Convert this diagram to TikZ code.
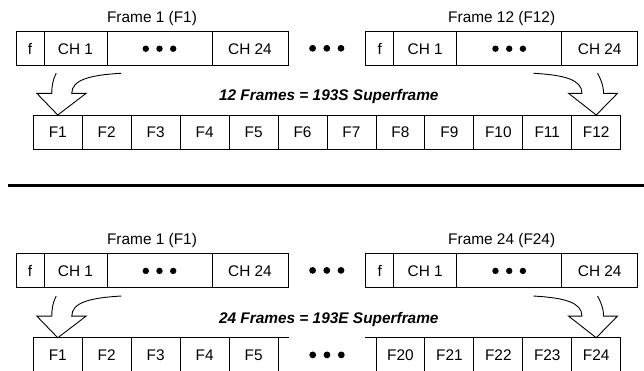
\documentclass[tikz,border=0pt]{standalone}
\usepackage{fontspec}
\setmainfont{Liberation Sans}
\begin{document}
\begin{tikzpicture}[x=1pt,y=-1pt,
  every node/.style={font=\fontsize{15.4}{18}\selectfont},
  cell/.style={draw=black,line width=0.9pt,inner sep=0pt,outer sep=0pt,minimum height=34pt,anchor=west},
  scell/.style={draw=black,line width=0.9pt,inner sep=0pt,outer sep=0pt,minimum height=34.3pt,minimum width=48.95pt},
  lbl/.style={inner sep=0pt},
  title/.style={inner sep=0pt,font=\fontsize{15.4}{18}\selectfont\bfseries\itshape},
  bigarrow/.style={draw=black,line width=0.9pt,line join=miter},
  sep/.style={line width=3pt},
  dot/.style={fill=black}]
\useasboundingbox (0,0) rectangle (644,370);
\clip (0,0) rectangle (644,370);
% one T1 frame: #1 name, #2 left x, #3 centre y, #4 label
\newcommand\tframe[4]{%
  \node[cell,minimum width=28pt] (#1f) at (#2,#3) {f};
  \node[cell,minimum width=63pt] (#1a) at (#1f.east) {CH 1};
  \node[cell,minimum width=105pt] (#1d) at (#1a.east) {};
  \node[cell,minimum width=76pt] (#1c) at (#1d.east) {CH 24};
  \foreach \k in {-1,0,1} \fill[dot] ([xshift=\k*13.7pt]#1d.center) circle (3.2pt);
  \path (#1f.north west) -- (#1c.north east) node[midway,lbl,yshift=13.2pt] (#1lab) {#4};
}
% ---------------- top: 193S superframe ----------------
\tframe{ua}{16}{48.7}{Frame 1 (F1)}
\tframe{ub}{365.7}{48.7}{Frame 12 (F12)}
\foreach \k in {-1,0,1} \fill[dot] ({326.8+\k*14.2},48.3) circle (3.4pt);
\node[title] (utitle) at (328.8,96.9) {12 Frames = 193S Superframe};
\foreach \i in {1,...,12}
  \node[scell] (uF\i) at ({33.3+(\i-0.5)*48.95},132.15) {F\i};
\begin{scope}[shift={(uF1.north)}]
  \draw[bigarrow] (-1.6,-41.7) .. controls (-5.3,-35) and (-6,-27.3) .. (-6,-21.7)
    -- (-21,-21.7) -- (0,0) -- (28.4,-21.7) -- (14,-21.7)
    .. controls (14,-35) and (31.7,-40) .. (63.4,-41.7);
\end{scope}
\begin{scope}[shift={(uF12.north)}]
  \draw[bigarrow] (-62.7,-41.7) .. controls (-31,-40) and (-14.3,-35) .. (-14.3,-21.7)
    -- (-27.7,-21.7) -- (0,0) -- (21.3,-21.7) -- (7.3,-21.7)
    .. controls (7.3,-30) and (4,-37) .. (1.3,-41.7);
\end{scope}
% ---------------- separator ----------------
\coordinate (sepL) at (8.3,185);
\coordinate (sepR) at (644,185);
\draw[sep] (sepL) -- (sepR);
% ---------------- bottom: 193E superframe ----------------
\tframe{la}{16}{270.9}{Frame 1 (F1)}
\tframe{lb}{365.7}{270.9}{Frame 24 (F24)}
\foreach \k in {-1,0,1} \fill[dot] ({326.8+\k*14.2},270.4) circle (3.4pt);
\node[title] (ltitle) at (328.8,319.1) {24 Frames = 193E Superframe};
\foreach \n/\p in {1/1,2/2,3/3,4/4,5/5,20/8,21/9,22/10,23/11,24/12}
  \node[scell] (lF\n) at ({33.3+(\p-0.5)*48.95},354.9) {F\n};
\coordinate (gapL) at ([xshift=10.5pt]lF5.north east);
\coordinate (gapR) at ([xshift=-10.5pt]lF20.north west);
\draw[line width=0.9pt] (lF5.north east) -- (gapL);
\draw[line width=0.9pt] (lF20.north west) -- (gapR);
\path (lF5.east) -- (lF20.west) coordinate[midway] (gapC);
\foreach \k in {-1,0,1} \fill[dot] ([xshift=\k*14.3pt]gapC) circle (3.4pt);
\begin{scope}[shift={(lF1.north)}]
  \draw[bigarrow] (-1.6,-41.7) .. controls (-5.3,-35) and (-6,-27.3) .. (-6,-21.7)
    -- (-21,-21.7) -- (0,0) -- (28.4,-21.7) -- (14,-21.7)
    .. controls (14,-35) and (31.7,-40) .. (63.4,-41.7);
\end{scope}
\begin{scope}[shift={(lF24.north)}]
  \draw[bigarrow] (-62.7,-41.7) .. controls (-31,-40) and (-14.3,-35) .. (-14.3,-21.7)
    -- (-27.7,-21.7) -- (0,0) -- (21.3,-21.7) -- (7.3,-21.7)
    .. controls (7.3,-30) and (4,-37) .. (1.3,-41.7);
\end{scope}
\end{tikzpicture}
\end{document}
